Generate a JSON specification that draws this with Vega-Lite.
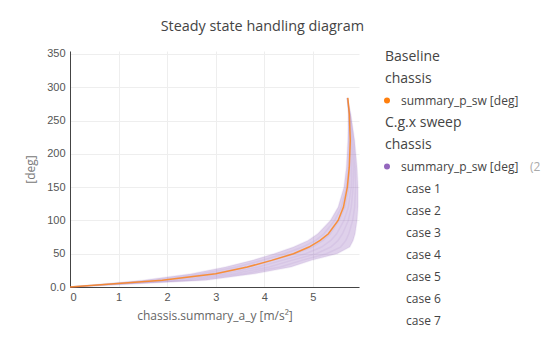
{
 "$schema": "https://vega.github.io/schema/vega-lite/v6.json",
 "padding": {"left": 24, "top": 18, "right": 0, "bottom": 0},
 "title": {"text": "Steady state handling diagram", "font": "Open Sans", "fontSize": 14.4, "fontWeight": "normal", "color": "#444", "anchor": "start", "dx": 136, "offset": 14},
 "config": {"view": {"stroke": null}, "font": "Open Sans",
  "axis": {"grid": true, "gridColor": "#eeeeee", "domain": true, "domainColor": "#444444", "domainWidth": 1, "ticks": false, "labelOverlap": false, "labelColor": "#555555", "labelFont": "Liberation Sans", "labelFontSize": 11, "titleFont": "Open Sans", "titleFontSize": 12, "titleFontWeight": "normal"}
 },
 "spacing": 20,
 "bounds": "flush",
 "datasets": {
  "cases": [
   {"case":"case 1","y":0,"x":0},{"case":"case 1","y":10,"x":1.5},{"case":"case 1","y":20,"x":2.5},{"case":"case 1","y":30,"x":3.2},{"case":"case 1","y":40,"x":3.75},{"case":"case 1","y":50,"x":4.2},{"case":"case 1","y":60,"x":4.6},{"case":"case 1","y":70,"x":4.9},{"case":"case 1","y":80,"x":5.1},{"case":"case 1","y":100,"x":5.36},{"case":"case 1","y":120,"x":5.52},{"case":"case 1","y":150,"x":5.64},{"case":"case 1","y":180,"x":5.69},{"case":"case 1","y":220,"x":5.72},{"case":"case 1","y":260,"x":5.73},{"case":"case 1","y":284,"x":5.71},
   {"case":"case 2","y":0,"x":0},{"case":"case 2","y":10,"x":1.72},{"case":"case 2","y":20,"x":2.72},{"case":"case 2","y":30,"x":3.43},{"case":"case 2","y":40,"x":3.95},{"case":"case 2","y":50,"x":4.42},{"case":"case 2","y":60,"x":4.79},{"case":"case 2","y":70,"x":5.06},{"case":"case 2","y":80,"x":5.23},{"case":"case 2","y":100,"x":5.45},{"case":"case 2","y":120,"x":5.59},{"case":"case 2","y":150,"x":5.69},{"case":"case 2","y":180,"x":5.73},{"case":"case 2","y":220,"x":5.74},{"case":"case 2","y":260,"x":5.74},{"case":"case 2","y":284,"x":5.71},
   {"case":"case 3","y":0,"x":0},{"case":"case 3","y":10,"x":1.93},{"case":"case 3","y":20,"x":2.93},{"case":"case 3","y":30,"x":3.65},{"case":"case 3","y":40,"x":4.16},{"case":"case 3","y":50,"x":4.63},{"case":"case 3","y":60,"x":4.99},{"case":"case 3","y":70,"x":5.21},{"case":"case 3","y":80,"x":5.36},{"case":"case 3","y":100,"x":5.54},{"case":"case 3","y":120,"x":5.66},{"case":"case 3","y":150,"x":5.74},{"case":"case 3","y":180,"x":5.76},{"case":"case 3","y":220,"x":5.77},{"case":"case 3","y":260,"x":5.75},{"case":"case 3","y":284,"x":5.71},
   {"case":"case 4","y":0,"x":0},{"case":"case 4","y":10,"x":2.15},{"case":"case 4","y":20,"x":3.15},{"case":"case 4","y":30,"x":3.88},{"case":"case 4","y":40,"x":4.36},{"case":"case 4","y":50,"x":4.85},{"case":"case 4","y":60,"x":5.18},{"case":"case 4","y":70,"x":5.37},{"case":"case 4","y":80,"x":5.49},{"case":"case 4","y":100,"x":5.64},{"case":"case 4","y":120,"x":5.73},{"case":"case 4","y":150,"x":5.79},{"case":"case 4","y":180,"x":5.8},{"case":"case 4","y":220,"x":5.79},{"case":"case 4","y":260,"x":5.755},{"case":"case 4","y":284,"x":5.71},
   {"case":"case 5","y":0,"x":0},{"case":"case 5","y":10,"x":2.37},{"case":"case 5","y":20,"x":3.37},{"case":"case 5","y":30,"x":4.1},{"case":"case 5","y":40,"x":4.56},{"case":"case 5","y":50,"x":5.07},{"case":"case 5","y":60,"x":5.37},{"case":"case 5","y":70,"x":5.52},{"case":"case 5","y":80,"x":5.61},{"case":"case 5","y":100,"x":5.73},{"case":"case 5","y":120,"x":5.79},{"case":"case 5","y":150,"x":5.83},{"case":"case 5","y":180,"x":5.84},{"case":"case 5","y":220,"x":5.81},{"case":"case 5","y":260,"x":5.76},{"case":"case 5","y":284,"x":5.71},
   {"case":"case 6","y":0,"x":0},{"case":"case 6","y":10,"x":2.58},{"case":"case 6","y":20,"x":3.58},{"case":"case 6","y":30,"x":4.33},{"case":"case 6","y":40,"x":4.77},{"case":"case 6","y":50,"x":5.28},{"case":"case 6","y":60,"x":5.57},{"case":"case 6","y":70,"x":5.68},{"case":"case 6","y":80,"x":5.74},{"case":"case 6","y":100,"x":5.82},{"case":"case 6","y":120,"x":5.86},{"case":"case 6","y":150,"x":5.88},{"case":"case 6","y":180,"x":5.87},{"case":"case 6","y":220,"x":5.84},{"case":"case 6","y":260,"x":5.77},{"case":"case 6","y":284,"x":5.71},
   {"case":"case 7","y":0,"x":0},{"case":"case 7","y":10,"x":2.8},{"case":"case 7","y":20,"x":3.8},{"case":"case 7","y":30,"x":4.55},{"case":"case 7","y":40,"x":4.97},{"case":"case 7","y":50,"x":5.5},{"case":"case 7","y":60,"x":5.76},{"case":"case 7","y":70,"x":5.83},{"case":"case 7","y":80,"x":5.87},{"case":"case 7","y":100,"x":5.91},{"case":"case 7","y":120,"x":5.93},{"case":"case 7","y":150,"x":5.93},{"case":"case 7","y":180,"x":5.91},{"case":"case 7","y":220,"x":5.86},{"case":"case 7","y":260,"x":5.78},{"case":"case 7","y":284,"x":5.71}
  ],
  "baseline": [
   {"y":0,"x":0},{"y":10,"x":1.9},{"y":20,"x":3.0},{"y":30,"x":3.65},{"y":40,"x":4.15},{"y":50,"x":4.6},{"y":60,"x":4.92},{"y":70,"x":5.15},{"y":80,"x":5.32},{"y":100,"x":5.52},{"y":120,"x":5.63},{"y":150,"x":5.71},{"y":180,"x":5.75},{"y":220,"x":5.77},{"y":260,"x":5.75},{"y":284,"x":5.72}
  ],
  "legend": [
   {"row":1,"kind":"group","label":"Baseline","series":"Baseline","suffix":""},
   {"row":2,"kind":"group","label":"chassis","series":"Baseline","suffix":""},
   {"row":3,"kind":"item","label":"summary_p_sw [deg]","series":"Baseline","suffix":""},
   {"row":4,"kind":"group","label":"C.g.x sweep","series":"C.g.x sweep","suffix":""},
   {"row":5,"kind":"group","label":"chassis","series":"C.g.x sweep","suffix":""},
   {"row":6,"kind":"item","label":"summary_p_sw [deg]","series":"C.g.x sweep","suffix":"(2 cases)"},
   {"row":7,"kind":"case","label":"case 1","series":"C.g.x sweep","suffix":""},
   {"row":8,"kind":"case","label":"case 2","series":"C.g.x sweep","suffix":""},
   {"row":9,"kind":"case","label":"case 3","series":"C.g.x sweep","suffix":""},
   {"row":10,"kind":"case","label":"case 4","series":"C.g.x sweep","suffix":""},
   {"row":11,"kind":"case","label":"case 5","series":"C.g.x sweep","suffix":""},
   {"row":12,"kind":"case","label":"case 6","series":"C.g.x sweep","suffix":""},
   {"row":13,"kind":"case","label":"case 7","series":"C.g.x sweep","suffix":""}
  ]
 },
 "hconcat": [
  {
   "width": 289,
   "height": 236,
   "encoding": {
    "y": {"field": "y", "type": "quantitative", "scale": {"domain": [0, 354.5], "nice": false, "zero": false},
     "axis": {"title": "[deg]", "values": [0,50,100,150,200,250,300,350], "tickCount": 8, "labelExpr": "datum.value == 0 ? '0.0' : datum.label", "labelPadding": 5, "titleColor": "#777777", "titlePadding": 9}},
    "x": {"field": "x", "type": "quantitative", "scale": {"domain": [0, 5.95], "nice": false},
     "axis": {"title": "chassis.summary_a_y [m/s²]", "values": [0,1,2,3,4,5], "labelPadding": 4, "titleColor": "#666666", "titlePadding": 8}}
   },
   "layer": [
    {
     "data": {"name": "cases"},
     "transform": [{"pivot": "case", "value": "x", "groupby": ["y"]}],
     "mark": {"type": "area", "orient": "horizontal", "color": "#9467bd", "opacity": 0.3},
     "encoding": {
      "x": {"field": "case 1", "type": "quantitative", "scale": {"domain": [0, 5.95], "nice": false},
       "axis": {"title": "chassis.summary_a_y [m/s²]", "values": [0,1,2,3,4,5], "labelPadding": 4, "titleColor": "#666666", "titlePadding": 8}},
      "x2": {"field": "case 7"}
     }
    },
    {
     "data": {"name": "cases"},
     "mark": {"type": "line", "color": "#9467bd", "strokeWidth": 1.5, "opacity": 0.1},
     "encoding": {
      "detail": {"field": "case"},
      "order": {"field": "y", "type": "quantitative"}
     }
    },
    {
     "data": {"name": "baseline"},
     "mark": {"type": "line", "color": "#ff7f0e", "strokeWidth": 1.5, "opacity": 0.8},
     "encoding": {
      "order": {"field": "y", "type": "quantitative"}
     }
    }
   ]
  },
  {
   "width": 174,
   "height": 275,
   "data": {"name": "legend"},
   "encoding": {
    "y": {"field": "row", "type": "ordinal", "scale": {"type": "point", "padding": 0.25}, "axis": null},
    "x": {"datum": 0, "type": "quantitative", "scale": {"domain": [0, 1]}, "axis": null}
   },
   "layer": [
    {
     "transform": [{"filter": "datum.kind == 'group'"}],
     "mark": {"type": "text", "align": "left", "baseline": "middle", "dx": 6, "font": "Open Sans", "fontSize": 14, "color": "#444444"},
     "encoding": {"text": {"field": "label"}}
    },
    {
     "transform": [{"filter": "datum.kind == 'item'"}],
     "mark": {"type": "point", "filled": true, "opacity": 1, "size": 36, "xOffset": 8},
     "encoding": {"color": {"field": "series", "type": "nominal", "scale": {"domain": ["Baseline", "C.g.x sweep"], "range": ["#ff7f0e", "#9467bd"]}, "legend": null}}
    },
    {
     "transform": [{"filter": "datum.kind == 'item'"}],
     "mark": {"type": "text", "align": "left", "baseline": "middle", "dx": 22, "font": "Open Sans", "fontSize": 12, "color": "#444444"},
     "encoding": {"text": {"field": "label"}}
    },
    {
     "transform": [{"filter": "datum.kind == 'item'"}],
     "mark": {"type": "text", "align": "left", "baseline": "middle", "dx": 151, "font": "Open Sans", "fontSize": 12, "color": "#aaaaaa", "limit": 17, "ellipsis": "\u200b"},
     "encoding": {"text": {"field": "suffix"}}
    },
    {
     "transform": [{"filter": "datum.kind == 'case'"}],
     "mark": {"type": "text", "align": "left", "baseline": "middle", "dx": 27, "font": "Open Sans", "fontSize": 12, "color": "#444444"},
     "encoding": {"text": {"field": "label"}}
    }
   ]
  }
 ]
}
